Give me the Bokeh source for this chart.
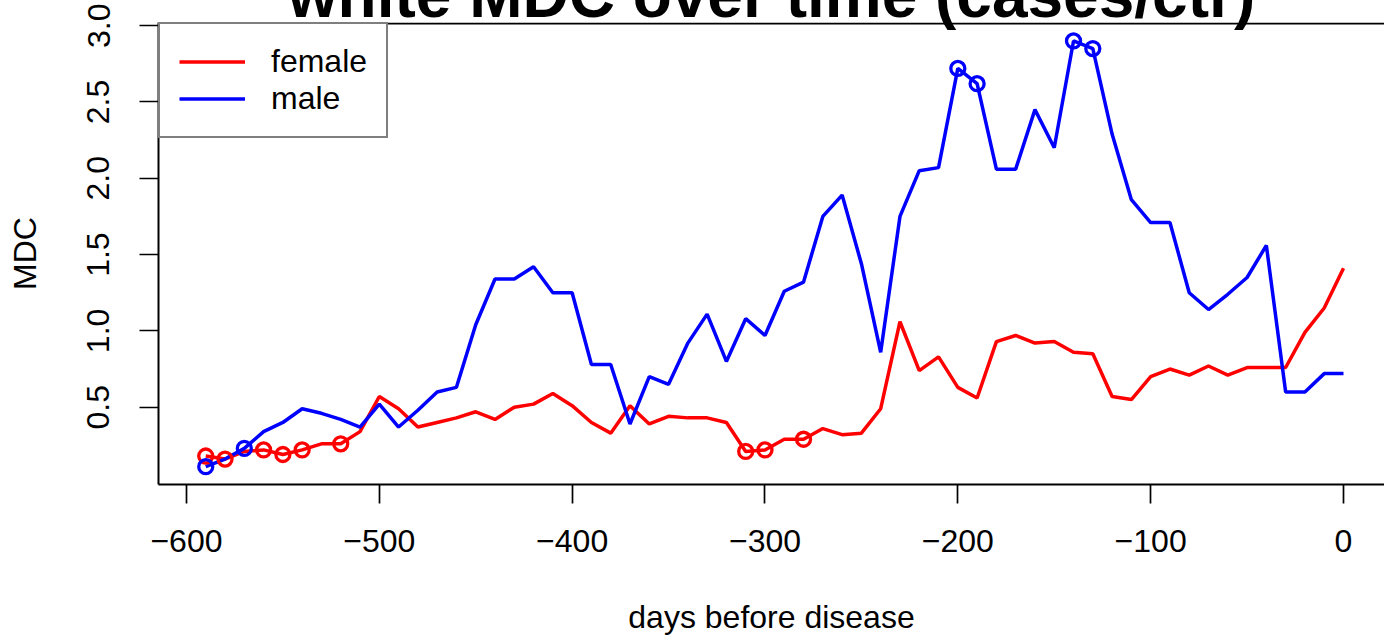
from bokeh.plotting import figure
from bokeh.models import Legend, LegendItem, Span, FixedTicker, Title
from bokeh.embed import file_html
from bokeh.resources import INLINE

# ---------------- data ----------------
days = list(range(-590, 1, 10))

female = [0.18, 0.16, 0.21, 0.22, 0.19, 0.22, 0.26, 0.26, 0.34, 0.57,
          0.49, 0.37, 0.40, 0.43, 0.47, 0.42, 0.50, 0.52, 0.59, 0.51,
          0.40, 0.33, 0.51, 0.39, 0.44, 0.43, 0.43, 0.40, 0.21, 0.22,
          0.29, 0.29, 0.36, 0.32, 0.33, 0.49, 1.06, 0.74, 0.83, 0.63,
          0.56, 0.93, 0.97, 0.92, 0.93, 0.86, 0.85, 0.57, 0.55, 0.70,
          0.75, 0.71, 0.77, 0.71, 0.76, 0.76, 0.76, 0.99, 1.15, 1.41]

male = [0.11, 0.16, 0.23, 0.34, 0.40, 0.49, 0.46, 0.42, 0.37, 0.52,
        0.37, 0.48, 0.60, 0.63, 1.04, 1.34, 1.34, 1.42, 1.25, 1.25,
        0.78, 0.78, 0.39, 0.70, 0.65, 0.92, 1.11, 0.80, 1.08, 0.97,
        1.26, 1.32, 1.75, 1.89, 1.44, 0.86, 1.75, 2.05, 2.07, 2.72,
        2.62, 2.06, 2.06, 2.45, 2.20, 2.90, 2.85, 2.29, 1.86, 1.71,
        1.71, 1.25, 1.14, 1.24, 1.35, 1.56, 0.60, 0.60, 0.72, 0.72]

female_marked_days = [-590, -580, -560, -550, -540, -520, -310, -300, -280]
male_marked_days = [-590, -570, -200, -190, -140, -130]

x_ticks = [-600, -500, -400, -300, -200, -100, 0]
x_tick_labels = ["\u2212600", "\u2212500", "\u2212400", "\u2212300", "\u2212200", "\u2212100", "0"]
y_ticks = [0.5, 1.0, 1.5, 2.0, 2.5, 3.0]
y_tick_labels = ["0.5", "1.0", "1.5", "2.0", "2.5", "3.0"]

title_text = "white MDC over time (cases/ctr)"
x_label = "days before disease"
y_label = "MDC"

# ---------------- figure ----------------
FONT = "Liberation Sans"
FS = "32px"

X0, X1 = -614.5, 21.26
Y0, Y1 = -0.0066, 3.0209

p = figure(width=1384, height=637, output_backend="svg", toolbar_location=None,
           title=None, x_range=(X0, X1), y_range=(Y0, Y1),
           min_border_left=158, min_border_right=0, min_border_top=22,
           min_border_bottom=153)
p.background_fill_color = "white"
p.border_fill_color = "white"
p.outline_line_color = None
p.xgrid.visible = False
p.ygrid.visible = False

for ax in (p.xaxis[0], p.yaxis[0]):
    ax.axis_line_color = "black"
    ax.axis_line_width = 2
    ax.major_tick_line_color = "black"
    ax.major_tick_line_width = 1.7
    ax.major_tick_out = 19
    ax.major_tick_in = 0
    ax.minor_tick_out = 0
    ax.minor_tick_in = 0
    ax.major_label_text_font = FONT
    ax.major_label_text_font_size = FS
    ax.major_label_text_color = "black"
    ax.axis_label_text_font = FONT
    ax.axis_label_text_font_size = FS
    ax.axis_label_text_font_style = "normal"
    ax.axis_label_text_color = "black"

p.xaxis.ticker = FixedTicker(ticks=x_ticks)
p.xaxis.major_label_overrides = {t: l for t, l in zip(x_ticks, x_tick_labels)}
p.xaxis.major_label_standoff = 26
p.xaxis.axis_label = x_label
p.xaxis.axis_label_standoff = 44

p.yaxis.ticker = FixedTicker(ticks=y_ticks)
p.yaxis.major_label_overrides = {t: l for t, l in zip(y_ticks, y_tick_labels)}
p.yaxis.major_label_orientation = "vertical"
p.yaxis.major_label_standoff = 30
p.yaxis.axis_label = y_label
p.yaxis.axis_label_standoff = 42

# top side of the box
p.add_layout(Span(location=Y1 - 0.0066, dimension="width",
                  line_color="black", line_width=2))

# ---------------- series ----------------
r_f = p.line(days, female, line_color="red", line_width=3.5)
r_m = p.line(days, male, line_color="blue", line_width=3.5)

fx = [d for d in days if d in female_marked_days]
fy = [female[days.index(d)] for d in fx]
mx = [d for d in days if d in male_marked_days]
my = [male[days.index(d)] for d in mx]

p.scatter(fx, fy, marker="circle", size=14, fill_color=None,
          line_color="red", line_width=3.3)
p.scatter(mx, my, marker="circle", size=14, fill_color=None,
          line_color="blue", line_width=3.3)

# ---------------- legend ----------------
legend = Legend(items=[LegendItem(label="female", renderers=[r_f]),
                       LegendItem(label="male", renderers=[r_m])],
                location="top_left")
legend.margin = 0
legend.padding = 19
legend.spacing = 0
legend.glyph_width = 66
legend.glyph_height = 37
legend.label_height = 37
legend.label_standoff = 26
legend.label_text_font = FONT
legend.label_text_font_size = FS
legend.label_text_color = "black"
legend.border_line_color = "black"
legend.border_line_width = 2
legend.background_fill_color = "white"
legend.background_fill_alpha = 1.0
p.add_layout(legend)

# ---------------- title (cut off at the top, as in the reference) ----------------
p.add_layout(Title(text=title_text, align="center", vertical_align="top",
                   standoff=-128, text_font=FONT, text_font_style="bold",
                   text_font_size="64px", text_color="black"), "above")

open("out.html", "w").write(file_html(p, INLINE))
